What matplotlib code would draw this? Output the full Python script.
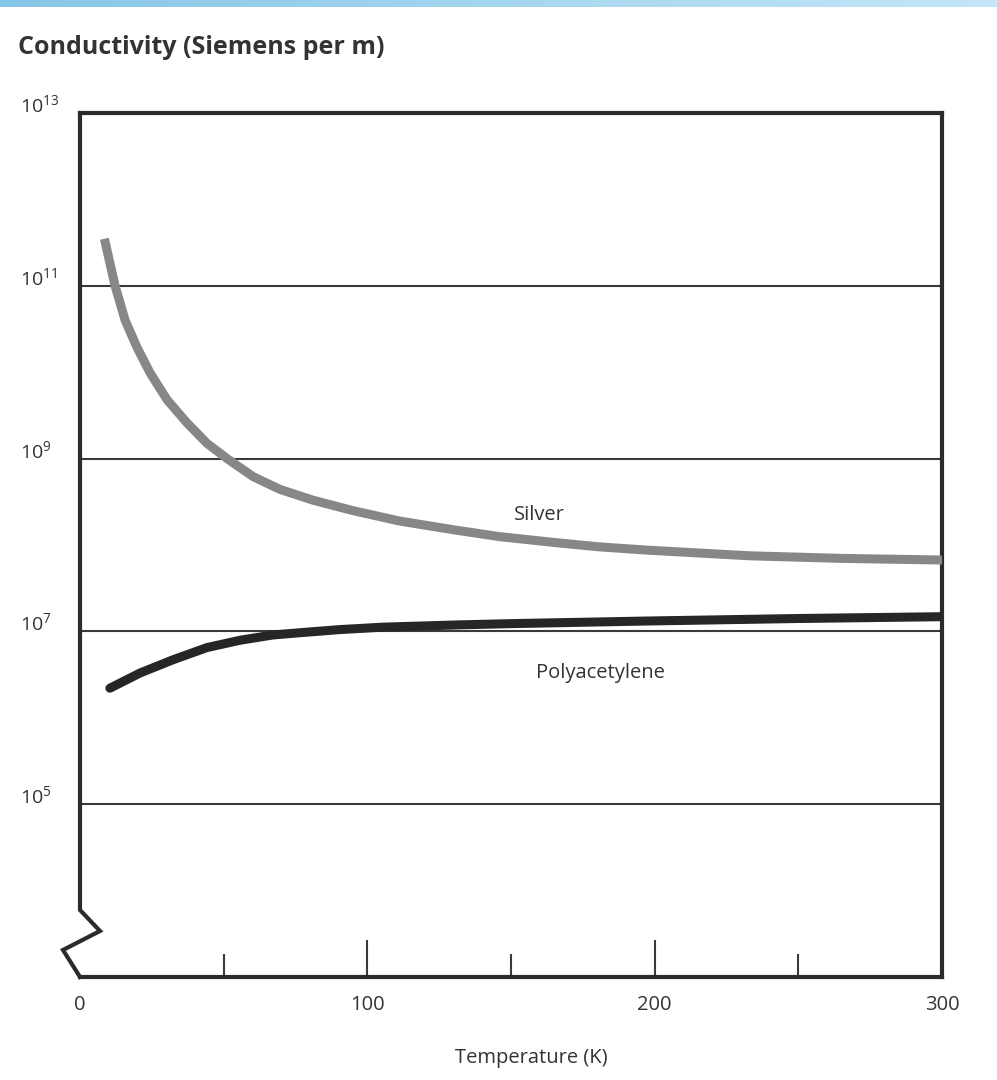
import numpy as np
import matplotlib
matplotlib.use("Agg")
import matplotlib.pyplot as plt
from matplotlib.colors import LinearSegmentedColormap

# ---- data ----
silver_T = [8.5, 12.2, 15.7, 19.8, 24.4, 30.3, 37.2, 44.2, 51.2, 60.2, 69.6, 81.1,
            95, 111, 130, 146, 165, 181, 198, 233, 265, 300]
silver_sigma = [3.5e11, 1.0e11, 4.0e10, 1.95e10, 9.8e9, 4.8e9, 2.6e9, 1.5e9, 1.0e9,
                6.2e8, 4.4e8, 3.3e8, 2.5e8, 1.9e8, 1.5e8, 1.25e8, 1.07e8, 9.5e7,
                8.7e7, 7.5e7, 7.0e7, 6.7e7]
poly_T = [10.4, 20.9, 32.4, 44.2, 55.7, 67.2, 79, 90.5, 105.5, 132, 150, 198, 250, 300]
poly_sigma = [2.2e6, 3.3e6, 4.7e6, 6.5e6, 7.9e6, 9.1e6, 9.8e6, 1.05e7, 1.12e7, 1.19e7,
              1.23e7, 1.32e7, 1.41e7, 1.48e7]
x_ticks = [0, 100, 200, 300]
x_minor = [50, 150, 250]
y_grid = [1e5, 1e7, 1e9, 1e11]
y_label_vals = [1e5, 1e7, 1e9, 1e11, 1e13]
y_label_txt = [r"$10^{5}$", r"$10^{7}$", r"$10^{9}$", r"$10^{11}$", r"$10^{13}$"]

plt.rcParams['font.family'] = ['Open Sans', 'DejaVu Sans']
plt.rcParams['mathtext.fontset'] = 'custom'
plt.rcParams['mathtext.rm'] = 'Open Sans'
plt.rcParams['mathtext.it'] = 'Open Sans'
plt.rcParams['mathtext.bf'] = 'Open Sans:bold'

W, H = 997, 1080
fig = plt.figure(figsize=(W / 100, H / 100), dpi=100)

# top gradient bar
gax = fig.add_axes([0, 1 - 7 / H, 1, 7 / H])
cmap = LinearSegmentedColormap.from_list("g", ["#86c6e6", "#c4e6f8"])
gax.imshow(np.linspace(0, 1, 256)[None, :], aspect='auto', cmap=cmap)
gax.axis('off')

L, R, T, B = 80, 942, 113, 977
ax = fig.add_axes([L / W, 1 - B / H, (R - L) / W, (B - T) / H])
ax.set_yscale('log')
ax.set_xlim(0, 300)
ax.set_ylim(1e3, 1e13)

spc = '#2b2b2b'
for s in ['top', 'right', 'bottom']:
    ax.spines[s].set_linewidth(3)
    ax.spines[s].set_color(spc)
ax.spines['left'].set_visible(False)

# broken left axis
bx = [0, 0, 20 / 862, -17 / 862, 0]
by = [1, 67 / 864, 46 / 864, 27 / 864, 0]
ax.plot(bx, by, transform=ax.transAxes, color=spc, lw=3, clip_on=False,
        solid_joinstyle='miter', zorder=5)

# gridlines
for g in y_grid:
    ax.axhline(g, color='#3a3a3a', lw=1.5, zorder=1)

# curves
ax.plot(silver_T, silver_sigma, color='#878787', lw=6.5, solid_capstyle='butt',
        solid_joinstyle='round', zorder=3)
ax.plot(poly_T, poly_sigma, color='#262626', lw=6.5, solid_capstyle='round',
        solid_joinstyle='round', zorder=3)

# ticks
ax.set_xticks(x_ticks)
ax.set_xticks(x_minor, minor=True)
ax.tick_params(axis='x', which='major', direction='in', length=27, width=1.5,
               color='#3a3a3a', pad=13, labelsize=14.5, labelcolor='#333333')
ax.tick_params(axis='x', which='minor', direction='in', length=16.5, width=1.5,
               color='#3a3a3a')
majt = ax.xaxis.get_major_ticks()
majt[0].tick1line.set_visible(False)
majt[-1].tick1line.set_visible(False)
ax.set_yticks([])
ax.yaxis.set_minor_locator(matplotlib.ticker.NullLocator())
ax.tick_params(axis='y', which='both', left=False, labelleft=False)

ytr = ax.get_yaxis_transform()
for v, t in zip(y_label_vals, y_label_txt):
    ax.text(-60 / 862, v * 10 ** 0.09, t, transform=ytr, ha='left', va='center',
            fontsize=14, color='#333333', clip_on=False)

ax.text(160, 2.2e8, "Silver", fontsize=14.5, color='#333333', ha='center', va='center')
ax.text(181, 3.3e6, "Polyacetylene", fontsize=14.5, color='#333333',
        ha='center', va='center')

fig.text(18 / W, 1 - 48 / H, "Conductivity (Siemens per m)", fontsize=18,
         fontweight='bold', color='#333333', ha='left', va='center')
fig.text(531 / W, 1 - 1058 / H, "Temperature (K)", fontsize=14.5, color='#333333',
         ha='center', va='center')

fig.savefig("out.png", dpi=100)
